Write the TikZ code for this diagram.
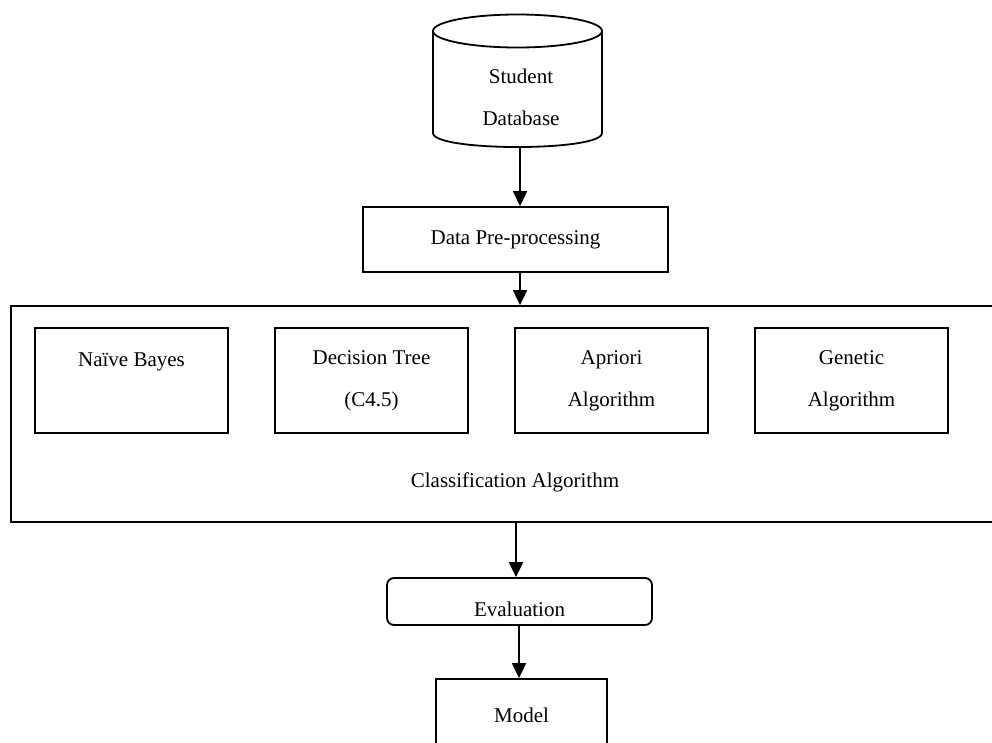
\documentclass[tikz,border=0pt]{standalone}
\usepackage{fontspec}
\setmainfont{Liberation Serif}
\usetikzlibrary{arrows.meta}
\begin{document}
\begin{tikzpicture}[x=1pt,y=-1pt,line width=1.8pt,
  every node/.style={font=\fontsize{21}{42}\selectfont},
  boxed/.style={draw,rectangle,inner sep=0pt,align=center},
  arr/.style={-{Triangle[length=15pt,width=14pt]}}]
\useasboundingbox (0,0) rectangle (992,742);
\clip (0,0) rectangle (992,742);
% cylinder
\draw (433,31) -- (433,133) .. controls (433,151.7) and (602,151.7) .. (602,133) -- (602,31);
\draw (517.5,31) ellipse [x radius=84.5pt, y radius=16.5pt];
\node[align=center] (db) at (521,97) {Student\\Database};
\coordinate (dbb) at (520,148);
% pre-processing
\node[boxed,minimum width=305pt,minimum height=65pt] (dpp) at (515.5,239.5) {Data Pre-processing};
% big box
\node[boxed,minimum width=989pt,minimum height=216pt] (cls) at (505.5,414) {};
\node[boxed,minimum width=193pt,minimum height=105pt] (nb) at (131.5,380.5) {Naïve Bayes\\\mbox{}};
\node[boxed,minimum width=193pt,minimum height=105pt] (dt) at (371.5,380.5) {Decision Tree\\(C4.5)};
\node[boxed,minimum width=193pt,minimum height=105pt] (ap) at (611.5,380.5) {Apriori\\Algorithm};
\node[boxed,minimum width=193pt,minimum height=105pt] (ga) at (851.5,380.5) {Genetic\\Algorithm};
\node (clst) at (515,482) {Classification Algorithm};
% evaluation
\node[boxed,rounded corners=7pt,minimum width=265pt,minimum height=47pt,text height=29pt,text depth=0pt] (ev) at (519.5,601.5) {Evaluation};
\coordinate (evb) at ([xshift=-0.5pt]ev.south);
% model
\node[boxed,minimum width=171pt,minimum height=72pt] (mod) at (521.5,715) {Model};
% arrows
\draw[arr] (dbb) -- ([xshift=4.5pt]dpp.north);
\draw[arr] ([xshift=4.5pt]dpp.south) -- (cls.north -| dbb);
\draw[arr] ([xshift=10.5pt]cls.south) -- ([xshift=-3.5pt]ev.north);
\draw[arr] (evb) -- (mod.north -| evb);
\end{tikzpicture}
\end{document}
